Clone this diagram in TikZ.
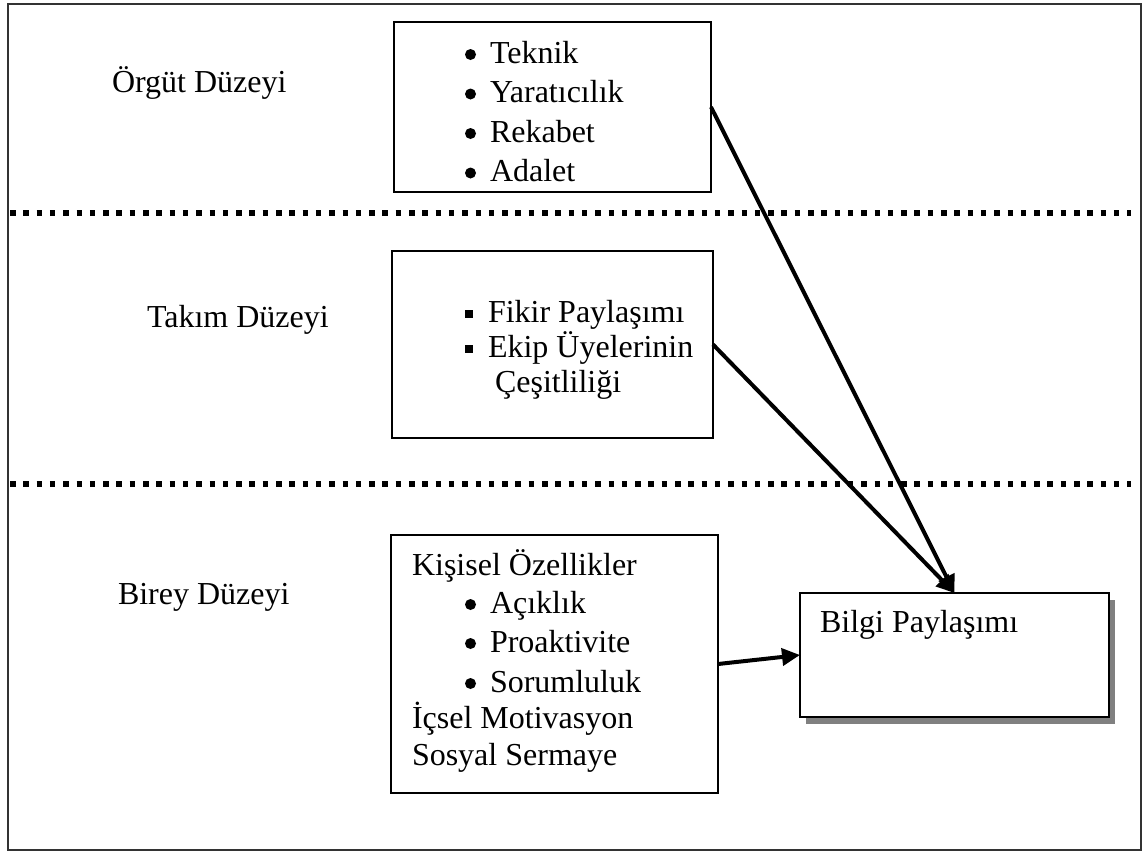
\documentclass[tikz,border=0pt]{standalone}
\usepackage{fontspec}
\setmainfont{Liberation Serif}
\usetikzlibrary{arrows.meta,shadows}
% bullet markers used in the item lists
\newcommand\dotitem{\makebox[25pt][l]{\tikz[baseline=0pt]\fill (5.5pt,8.5pt) circle[radius=5.5pt];}}
\newcommand\sqitem{\makebox[23pt][l]{\raisebox{4pt}{\rule{8pt}{8pt}}}}
\begin{document}
\begin{tikzpicture}[x=1pt,y=-1pt,
  every node/.style={inner sep=0pt, outer sep=0pt},
  txt/.style={anchor=base west, font=\fontsize{32}{39}\selectfont},
  itembox/.style={draw=black, line width=2pt, fill=white},
  level/.style={line width=5.5pt, dash pattern=on 5.5pt off 7.8pt},
  link/.style={line width=4pt, -{Triangle[length=18pt,width=17pt]}},
]
\useasboundingbox (0,0) rectangle (1148,852);
% outer frame
\draw[line width=2pt, black!80] (8,4) rectangle (1141,850);

% level separators
\draw[level] (10,213) -- (1131,213);
\draw[level] (10,484) -- (1131,484);

% level labels
\node[txt] (lorg) at (112,92) {Örgüt Düzeyi};
\node[txt] (ltak) at (147,327) {Takım Düzeyi};
\node[txt] (lbir) at (118,604) {Birey Düzeyi};

% organisation level factors
\node[itembox, minimum width=317pt, minimum height=170pt] (org) at (552.5,107) {};
\node[txt] (o1) at (465,63) {\dotitem Teknik};
\node[txt] (o2) at (465,102.5) {\dotitem Yaratıcılık};
\node[txt] (o3) at (465,142) {\dotitem Rekabet};
\node[txt] (o4) at (465,181.5) {\dotitem Adalet};

% team level factors
\node[itembox, minimum width=321pt, minimum height=187pt] (tak) at (552.5,344.5) {};
\node[txt] (t1) at (465,322) {\sqitem Fikir Paylaşımı};
\node[txt] (t2) at (465,357) {\sqitem Ekip Üyelerinin};
\node[txt] (t3) at (495,392) {Çeşitliliği};

% individual level factors
\node[itembox, minimum width=327pt, minimum height=258pt] (bir) at (554.5,664) {};
\node[txt] (b1) at (412,575) {Kişisel Özellikler};
\node[txt] (b2) at (465,613) {\dotitem Açıklık};
\node[txt] (b3) at (465,652) {\dotitem Proaktivite};
\node[txt] (b4) at (465,692) {\dotitem Sorumluluk};
\node[txt] (b5) at (412,728) {İçsel Motivasyon};
\node[txt] (b6) at (412,765) {Sosyal Sermaye};

% outcome
\node[itembox, minimum width=309pt, minimum height=124pt,
      drop shadow={shadow xshift=6pt, shadow yshift=-7pt, fill=black!50, opacity=1}]
      (bilgi) at (954.5,655) {};
\node[txt] (bp) at (820,632) {Bilgi Paylaşımı};

% influences
\draw[link] (org.east) -- (bilgi.north);
\draw[link] (tak.east) -- (bilgi.north);
\draw[link] (bir.east) -- (bilgi.west);
\end{tikzpicture}
\end{document}
